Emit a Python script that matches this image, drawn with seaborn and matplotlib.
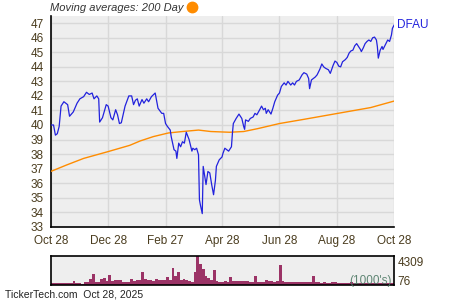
import numpy as np
import pandas as pd
import matplotlib
matplotlib.use("Agg")
import matplotlib.pyplot as plt
from matplotlib.lines import Line2D
import seaborn as sns

sns.set_style("white")
plt.rcParams['font.family'] = ['Liberation Sans', 'DejaVu Sans']

# ---------------- data ----------------
start_date = "2024-10-28"
end_date = "2025-10-28"
ticker = "DFAU"

price_days = [0, 3, 5, 7, 9, 11, 14, 18, 20, 24,
              28, 31, 35, 38, 41, 44, 46, 49, 51, 52,
              55, 59, 61, 64, 66, 69, 71, 73, 75, 79,
              83, 86, 88, 90, 92, 94, 97, 99, 102, 104,
              107, 111, 114, 118, 120, 122, 124, 127, 128, 131,
              133, 134, 136, 138, 140, 142, 144, 147, 150, 151,
              153, 155, 157, 158, 159, 161, 162, 165, 167, 169,
              171, 173, 175, 176, 179, 182, 183, 185, 187, 189,
              192, 193, 194, 197, 200, 203, 205, 206, 207, 210,
              212, 215, 217, 219, 222, 224, 226, 228, 229, 231,
              234, 236, 238, 241, 243, 245, 248, 250, 252, 255,
              257, 259, 261, 264, 267, 269, 272, 274, 275, 277,
              279, 281, 283, 286, 288, 290, 292, 295, 297, 300,
              302, 304, 306, 308, 310, 313, 315, 317, 319, 321,
              323, 325, 327, 329, 330, 332, 334, 336, 338, 340,
              342, 344, 346, 347, 348, 350, 352, 353, 356, 358,
              360, 362, 363, 365]

price = [40.0, 40.0, 39.3, 39.4, 39.9, 41.3, 41.6, 41.4, 40.6, 40.9,
         41.5, 41.8, 41.95, 42.25, 42.1, 42.2, 41.8, 42.0, 41.8, 40.2,
         40.5, 41.4, 41.3, 40.5, 40.35, 41.05, 40.7, 40.1, 40.15, 41.3,
         42.0, 42.0, 41.4, 41.7, 41.8, 41.3, 41.75, 41.5, 41.8, 41.6,
         41.95, 42.2, 41.15, 40.8, 40.8, 40.1, 39.9, 39.65, 39.2, 38.3,
         38.2, 37.7, 38.75, 38.5, 38.85, 38.75, 39.5, 39.0, 38.2, 38.4,
         38.3, 38.4, 37.95, 34.85, 34.5, 33.9, 37.15, 35.9, 36.8, 36.7,
         35.9, 35.2, 36.2, 37.15, 37.6, 37.8, 38.05, 38.4, 38.3, 38.2,
         38.5, 39.4, 40.1, 40.45, 40.75, 40.45, 39.9, 39.7, 40.35, 40.25,
         40.45, 40.55, 40.8, 40.7, 41.05, 41.3, 41.05, 41.15, 40.8, 41.05,
         40.75, 41.15, 41.6, 42.05, 42.2, 42.65, 42.9, 42.75, 43.0, 42.75,
         42.9, 42.75, 43.0, 43.1, 43.45, 43.6, 43.5, 43.2, 42.5, 43.1,
         43.2, 43.3, 43.45, 43.85, 44.2, 44.0, 43.9, 43.8, 43.55, 44.1,
         44.4, 44.3, 44.05, 44.0, 44.35, 44.5, 44.65, 44.95, 45.1, 45.15,
         45.45, 45.6, 45.4, 45.2, 45.05, 45.3, 45.6, 45.75, 45.85, 45.75,
         46.0, 46.05, 45.85, 45.4, 44.6, 45.15, 45.4, 45.2, 45.6, 45.85,
         45.75, 46.2, 46.65, 46.9]

ma_days = [0, 17, 35, 60, 84, 95, 109, 125, 140, 157, 170, 190, 205, 220, 243, 270, 305, 340, 365]
ma_values = [36.8, 37.25, 37.7, 38.15, 38.6, 38.9, 39.2, 39.45, 39.55, 39.65,
             39.55, 39.5, 39.55, 39.75, 40.1, 40.4, 40.8, 41.2, 41.65]

# volume in thousands, evenly spaced across the year
volume = [350, 330, 360, 340, 350, 320, 330, 340, 550, 350, 330, 150,
          500, 480, 900, 1650, 420, 400, 900, 1050, 550, 1500, 550, 700, 750,
          700, 500, 480, 520, 900, 650, 750, 700, 2000, 850, 700,
          750, 650, 900, 750, 700, 750, 1250, 750, 2500, 1300, 1900,
          750, 900, 700, 650, 400, 2000, 4309, 3100, 2400, 1400, 1000,
          750, 2300, 600, 450, 400, 650, 500, 1150, 650, 600, 650,
          600, 600, 550, 500, 500, 1300, 400, 420, 400, 750, 550,
          550, 500, 650, 2950, 600,
          450, 400, 420, 380, 400, 450, 400, 380, 420, 400,
          1400,
          400, 380, 350, 400, 370, 350, 380, 400, 350, 330, 360, 350, 340, 380,
          350, 330, 350, 340, 360, 330, 350, 340, 320, 350, 340, 360, 330, 350, 340]
vol_max_label = "4309"
vol_min_label = "76"

tick_dates = ["2024-10-28", "2024-12-28", "2025-02-27", "2025-04-28",
              "2025-06-28", "2025-08-28", "2025-10-28"]
tick_labels = ["Oct 28", "Dec 28", "Feb 27", "Apr 28", "Jun 28", "Aug 28", "Oct 28"]
minor_dates = ["2024-11-28", "2025-01-28", "2025-03-28", "2025-05-28",
               "2025-07-28", "2025-09-28"]
y_ticks = list(range(33, 48))

# ---------------- styling ----------------
BLUE = "#2222dd"
ORANGE = "#ff8c00"
BG = "#eeeeee"
GRID = "#d8d8d8"
TXT = "#4a3c1e"
BAR = "#9b3366"

start = pd.Timestamp(start_date)
end = pd.Timestamp(end_date)

df_price = pd.DataFrame({"date": start + pd.to_timedelta(price_days, unit="D"), "price": price})
df_ma = pd.DataFrame({"date": start + pd.to_timedelta(ma_days, unit="D"), "ma": ma_values})

fig = plt.figure(figsize=(4.5, 3), dpi=100)
ax = fig.add_axes([50.7 / 450, 73.3 / 300, 343.6 / 450, 210.7 / 300])
axv = fig.add_axes([50.7 / 450, 15 / 300, 343.6 / 450, 29 / 300])

ax.set_facecolor(BG)
sns.lineplot(data=df_ma, x="date", y="ma", ax=ax, color=ORANGE, lw=1.0, zorder=3)
sns.lineplot(data=df_price, x="date", y="price", ax=ax, color=BLUE, lw=0.9, zorder=4)

ax.set_xlim(start, end)
ax.set_ylim(33, 47.5)
ax.set_yticks(y_ticks)
ax.set_yticks([v + 0.5 for v in y_ticks[:-1]], minor=True)
ax.set_xticks(pd.to_datetime(tick_dates))
ax.set_xticklabels(tick_labels)
ax.set_xticks(pd.to_datetime(minor_dates), minor=True)
ax.set_xlabel("")
ax.set_ylabel("")
ax.set_axisbelow(True)
ax.grid(True, which="major", color=GRID, lw=1.0)
ax.tick_params(axis="both", which="both", direction="in", colors="black",
               labelcolor=TXT, labelsize=8.5)
ax.tick_params(axis="x", which="both", length=5, width=1, pad=6)
ax.tick_params(axis="y", which="both", length=3, width=1, pad=5)
for s in ["top", "right"]:
    ax.spines[s].set_visible(False)
for s in ["left", "bottom"]:
    ax.spines[s].set_color("black")
    ax.spines[s].set_linewidth(1.2)

ax.annotate(ticker, xy=(df_price["date"].iloc[-1], price[-1]), xytext=(2, 0),
            textcoords="offset points", ha="left", va="center",
            color=BLUE, fontsize=8.5, annotation_clip=False)

# volume panel
n = len(volume)
step_days = (end - start).days / n
vol_dates = start + pd.to_timedelta((np.arange(n) + 0.5) * step_days, unit="D")
axv.set_facecolor(BG)
axv.bar(vol_dates, volume, width=step_days, color=BAR, linewidth=0)
axv.set_xlim(start, end)
axv.set_ylim(0, 4309)
axv.set_xticks([])
axv.set_yticks([])
for s in axv.spines.values():
    s.set_visible(True)
    s.set_color("black")
    s.set_linewidth(1.2)
axv.text(1.01, 0.77, vol_max_label, transform=axv.transAxes, ha="left", va="center",
         fontsize=8.5, color=TXT)
axv.text(1.01, 0.11, vol_min_label, transform=axv.transAxes, ha="left", va="center",
         fontsize=8.5, color=TXT)
axv.text(0.992, 0.14, "(1000's)", transform=axv.transAxes, ha="right", va="center",
         fontsize=8.5, color="#4f7a66", alpha=0.9)

# header and footer
fig.text(50 / 450, 1 - 8 / 300, "Moving averages: 200 Day", style="italic",
         fontsize=8, color="#333333", ha="left", va="center")
fig.add_artist(Line2D([191.7 / 450], [1 - 7 / 300], marker="o", color=ORANGE,
                      markersize=7.5, transform=fig.transFigure, linestyle="none"))
fig.text(5 / 450, 1 - 294.5 / 300, "TickerTech.com  Oct 28, 2025", fontsize=7.5,
         color="#222222", ha="left", va="center")

fig.savefig("out.png", dpi=100)
